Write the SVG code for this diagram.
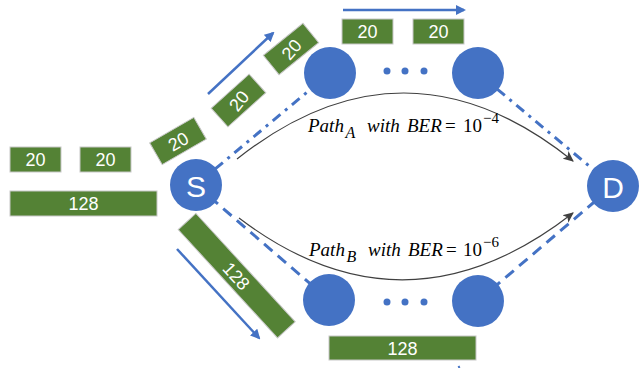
<svg xmlns="http://www.w3.org/2000/svg" width="641" height="368" viewBox="0 0 641 368">
<style>
.node{fill:#4472C4}
.nt{fill:#fff;font-family:"Liberation Sans",Arial,sans-serif;font-size:30px;text-anchor:middle;dominant-baseline:central}
.box{fill:#548235;stroke:#c8c8c8;stroke-width:1}
.bt{fill:#fff;font-family:"Liberation Sans",Arial,sans-serif;font-size:18px;text-anchor:middle;dominant-baseline:central}
.dd{fill:none;stroke:#4472C4;stroke-width:3;stroke-dasharray:10 6 3 6}
.da{fill:none;stroke:#4472C4;stroke-width:3;stroke-dasharray:11 7}
.ba{fill:none;stroke:#4472C4;stroke-width:2.5;marker-end:url(#bh)}
.cv{fill:none;stroke:#404040;stroke-width:1.2;marker-end:url(#kh)}
.lb{font-family:"Liberation Serif","Times New Roman",serif;font-size:19px;fill:#000}
.it{font-style:italic}
</style>
<defs>
<marker id="bh" viewBox="0 0 10 10" refX="8" refY="5" markerWidth="4" markerHeight="4" orient="auto" markerUnits="strokeWidth">
<path d="M0,0 L10,5 L0,10 z" fill="#4472C4"/>
</marker>
<marker id="kh" viewBox="0 0 10 10" refX="9" refY="5" markerWidth="9" markerHeight="9" orient="auto" markerUnits="strokeWidth">
<path d="M0,0.5 L10,5 L0,9.5 L2.5,5 z" fill="#404040"/>
</marker>
</defs>

<g id="connectors">
<line class="dd" x1="196" y1="185" x2="330" y2="73"/>
<line class="dd" x1="478" y1="73" x2="613" y2="186"/>
<line class="da" x1="196" y1="185" x2="329" y2="300"/>
<line class="da" x1="478" y1="301" x2="613" y2="186"/>
<path class="cv" d="M237,159 Q405,26 573,161"/>
<path class="cv" d="M239,218 Q405,344 573,213"/>
<line class="ba" x1="208" y1="94" x2="273" y2="33"/>
<line class="ba" x1="343" y1="10" x2="464" y2="10"/>
<line class="ba" x1="177" y1="249" x2="259" y2="338"/>
<line x1="458.5" y1="366" x2="459.5" y2="368" stroke="#4472C4" stroke-width="2"/>
</g>

<g id="S"><circle class="node" cx="196" cy="185" r="26"/><text class="nt" x="196" y="186">S</text></g>
<g id="D"><circle class="node" cx="613" cy="186" r="26"/><text class="nt" x="613" y="187">D</text></g>
<g id="A1"><circle class="node" cx="330" cy="73" r="26"/></g>
<g id="A2"><circle class="node" cx="478" cy="73" r="26"/></g>
<g id="B1"><circle class="node" cx="329" cy="300" r="26"/></g>
<g id="B2"><circle class="node" cx="478" cy="301" r="26"/></g>
<g id="dotsA" fill="#4472C4"><circle cx="387" cy="71" r="3.5"/><circle cx="405" cy="71" r="3.5"/><circle cx="424" cy="71" r="3.5"/></g>
<g id="dotsB" fill="#4472C4"><circle cx="387" cy="302" r="3.5"/><circle cx="405" cy="302" r="3.5"/><circle cx="424" cy="302" r="3.5"/></g>

<g id="packets-source">
<rect class="box" x="10" y="147" width="51" height="25"/><text class="bt" x="35.5" y="160">20</text>
<rect class="box" x="80" y="147" width="51" height="25"/><text class="bt" x="105.5" y="160">20</text>
<rect class="box" x="10" y="191" width="147" height="25"/><text class="bt" x="83.5" y="204">128</text>
</g>

<g id="packets-A">
<g transform="translate(178,141) rotate(-30)"><rect class="box" x="-25.5" y="-12.5" width="51" height="25"/><text class="bt" x="0" y="1">20</text></g>
<g transform="translate(238.5,100.5) rotate(-42)"><rect class="box" x="-25.5" y="-12.5" width="51" height="25"/><text class="bt" x="0" y="1" transform="rotate(-10)">20</text></g>
<g transform="translate(291,49) rotate(-39)"><rect class="box" x="-25.5" y="-12.5" width="51" height="25"/><text class="bt" x="0" y="1" transform="rotate(-10)">20</text></g>
<rect class="box" x="342" y="19" width="51" height="25"/><text class="bt" x="367.5" y="32">20</text>
<rect class="box" x="413" y="19" width="51" height="25"/><text class="bt" x="438.5" y="32">20</text>
</g>

<g id="packets-B">
<g transform="translate(236.7,275.7) rotate(47.5)"><rect class="box" x="-73.5" y="-12" width="147" height="24"/><text class="bt" x="0" y="1">128</text></g>
<rect class="box" x="329" y="336" width="147" height="24"/><text class="bt" x="402.5" y="348.5">128</text>
</g>

<g id="labels">
<text class="lb"><tspan class="it" x="308" y="132">Path</tspan><tspan class="it" x="345.5" y="138" font-size="16">A</tspan><tspan class="it" x="367" y="132">with</tspan><tspan class="it" x="407" y="132">BER</tspan><tspan x="445" y="132">=</tspan><tspan x="463" y="132">10</tspan><tspan x="483" y="123" font-size="15">−4</tspan></text>
<text class="lb"><tspan class="it" x="309" y="256">Path</tspan><tspan class="it" x="346.5" y="262" font-size="16">B</tspan><tspan class="it" x="368" y="256">with</tspan><tspan class="it" x="408" y="256">BER</tspan><tspan x="446" y="256">=</tspan><tspan x="463" y="256">10</tspan><tspan x="483" y="247" font-size="15">−6</tspan></text>
</g>
</svg>
